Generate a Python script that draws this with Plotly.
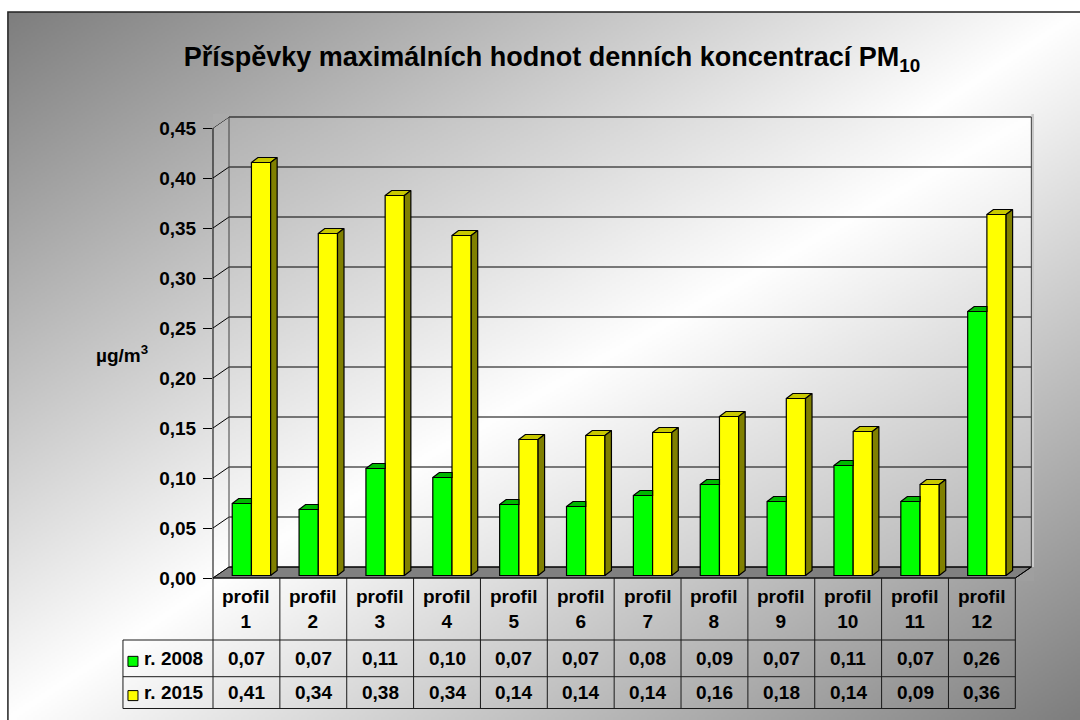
import base64
import struct
import zlib

import numpy as np
import plotly.graph_objects as go

# ---------------- data ----------------
category_labels = ["profil<br>1", "profil<br>2", "profil<br>3", "profil<br>4",
                   "profil<br>5", "profil<br>6", "profil<br>7", "profil<br>8",
                   "profil<br>9", "profil<br>10", "profil<br>11", "profil<br>12"]
series_names = ["r. 2008", "r. 2015"]
values_2008 = [0.072, 0.066, 0.107, 0.098, 0.071, 0.069, 0.080, 0.091, 0.074, 0.110, 0.074, 0.264]
values_2015 = [0.413, 0.342, 0.380, 0.340, 0.136, 0.140, 0.143, 0.159, 0.177, 0.144, 0.091, 0.361]
y_ticks = [0.00, 0.05, 0.10, 0.15, 0.20, 0.25, 0.30, 0.35, 0.40, 0.45]
y_tick_labels = ["0,00", "0,05", "0,10", "0,15", "0,20", "0,25", "0,30", "0,35", "0,40", "0,45"]
title_text = "Příspěvky maximálních hodnot denních koncentrací PM<sub>10</sub>"
y_title = "µg/m<sup>3</sup>"

# ---------------- styling / geometry ----------------
W, H = 1080, 720
FONT = "Liberation Sans, Arial, sans-serif"
TXT = 19
GREEN, GREEN_TOP = "#00FF00", "#00B800"
YELLOW, YELLOW_TOP, YELLOW_SIDE = "#FFFF00", "#C8C800", "#808000"

L_PX = 213            # front-left corner of the floor (x pixel)
B_PX = 578            # front value 0 (y pixel)
XU = 802 / 12         # pixels per category
YU = 1000.0           # pixels per value unit
DX, DY = 16 / XU, 11 / YU          # depth of the 3-D box
BAR_W = 19.2 / XU
BAR_OFF = 5 / XU
BAR_BASE = 0.0025
DXB, DYB = 6.5 / XU, 5 / YU        # depth of a bar
n = len(category_labels)
YMAX = y_ticks[-1]

x_lo, x_hi = -0.5, n - 0.5 + DX + 0.04
y_lo, y_hi = -0.003, YMAX + DY + 0.003
plot_w = (x_hi - x_lo) * XU
plot_h = (y_hi - y_lo) * YU
m_l = L_PX
m_r = W - L_PX - plot_w
m_b = H - B_PX + y_lo * YU
m_t = H - m_b - plot_h


def pxx(px):
    return (px - m_l) / plot_w


def pxy(py):
    return (H - m_b - py) / plot_h


def dxp(x):
    return (x - x_lo) / (x_hi - x_lo)


def dyp(y):
    return (y - y_lo) / (y_hi - y_lo)


def gradient(w, h, dark, light):
    u = np.linspace(0, 1, w)[None, :]
    v = np.linspace(0, 1, h)[:, None]
    t = (u + v) / 2
    return dark + (light - dark) * (1 - np.abs(2 * t - 1))


def png_uri(gray):
    gray = np.clip(gray, 0, 255).astype(np.uint8)
    h, w = gray.shape
    raw = b"".join(b"\x00" + gray[r].tobytes() for r in range(h))

    def chunk(tag, data):
        c = struct.pack(">I", len(data)) + tag + data
        return c + struct.pack(">I", zlib.crc32(tag + data) & 0xFFFFFFFF)

    png = (b"\x89PNG\r\n\x1a\n"
           + chunk(b"IHDR", struct.pack(">IIBBBBB", w, h, 8, 0, 0, 0, 0))
           + chunk(b"IDAT", zlib.compress(raw, 9))
           + chunk(b"IEND", b""))
    return "data:image/png;base64," + base64.b64encode(png).decode()


OUT_DARK, OUT_LIGHT = 126, 255
WALL_DARK, WALL_LIGHT = 176, 255
OX0, OY0 = 8, 12


def outer_color(px, py):
    u = (px - OX0) / (W - OX0)
    v = (py - OY0) / (H - OY0)
    t = (u + v) / 2
    c = int(OUT_DARK + (OUT_LIGHT - OUT_DARK) * (1 - abs(2 * t - 1)))
    return f"rgb({c},{c},{c})"


fig = go.Figure()

# ---------------- bars: front faces ----------------
xs = np.arange(n)
gx = xs + BAR_OFF - BAR_W / 2
yx = xs + BAR_OFF + BAR_W / 2
fig.add_trace(go.Bar(x=gx, y=values_2008, base=BAR_BASE, width=BAR_W, name=series_names[0],
                     marker=dict(color=GREEN, line=dict(color="black", width=1.2)),
                     hoverinfo="skip"))
fig.add_trace(go.Bar(x=yx, y=values_2015, base=BAR_BASE, width=BAR_W, name=series_names[1],
                     marker=dict(color=YELLOW, line=dict(color="black", width=1.2)),
                     hoverinfo="skip"))

# ---------------- bars: top and side faces ----------------
gt_x, gt_y, yt_x, yt_y, ys_x, ys_y = [], [], [], [], [], []
for i in range(n):
    g, y = values_2008[i], values_2015[i]
    x0, x1 = gx[i] - BAR_W / 2, gx[i] + BAR_W / 2
    top = BAR_BASE + g
    if y >= g:
        gt_x += [x0, x1, x1, x0 + DXB, x0, None]
        gt_y += [top, top, top + DYB, top + DYB, top, None]
    else:
        gt_x += [x0, x1, x1 + DXB, x0 + DXB, x0, None]
        gt_y += [top, top, top + DYB, top + DYB, top, None]
    x0, x1 = yx[i] - BAR_W / 2, yx[i] + BAR_W / 2
    top = BAR_BASE + y
    yt_x += [x0, x1, x1 + DXB, x0 + DXB, x0, None]
    yt_y += [top, top, top + DYB, top + DYB, top, None]
    ys_x += [x1, x1 + DXB, x1 + DXB, x1, x1, None]
    ys_y += [BAR_BASE, BAR_BASE + DYB, top + DYB, top, BAR_BASE, None]

for fx, fy, col in [(gt_x, gt_y, GREEN_TOP), (yt_x, yt_y, YELLOW_TOP), (ys_x, ys_y, YELLOW_SIDE)]:
    fig.add_trace(go.Scatter(x=fx, y=fy, mode="lines", fill="toself", fillcolor=col,
                             line=dict(color="black", width=1.2), hoverinfo="skip",
                             showlegend=False))

shapes = []
# floor
shapes.append(dict(type="path", xref="x", yref="y", layer="below",
                   path=f"M {-0.5},0 L {n-0.5},0 L {n-0.5+DX},{DY} L {-0.5+DX},{DY} Z",
                   fillcolor="#808080", line=dict(color="black", width=1)))
# back-wall gridlines and side-wall tick lines
for v in y_ticks:
    shapes.append(dict(type="line", xref="x", yref="y", layer="below",
                       x0=-0.5 + DX, x1=n - 0.5 + DX, y0=v + DY, y1=v + DY,
                       line=dict(color="black", width=1)))
    shapes.append(dict(type="line", xref="paper", yref="y", layer="below",
                       x0=dxp(-0.5), x1=dxp(-0.5 + DX), y0=v, y1=v + DY,
                       line=dict(color="black", width=1)))
# back wall edges
for xe in (-0.5 + DX, n - 0.5 + DX):
    shapes.append(dict(type="line", xref="x", yref="y", layer="below",
                       x0=xe, x1=xe, y0=DY, y1=YMAX + DY,
                       line=dict(color="#404040", width=1)))
# right floor edge
shapes.append(dict(type="line", xref="x", yref="y", layer="below",
                   x0=n - 0.5, x1=n - 0.5 + DX, y0=0, y1=DY,
                   line=dict(color="black", width=1)))
# corner regions showing the outer background
shapes.append(dict(type="path", xref="paper", yref="paper", layer="below",
                   path=(f"M {dxp(-0.5)},{dyp(YMAX)} L {dxp(-0.5)},{dyp(y_hi)} "
                         f"L {dxp(-0.5+DX)},{dyp(y_hi)} L {dxp(-0.5+DX)},{dyp(YMAX+DY)} Z"),
                   fillcolor=outer_color(L_PX + 6, 120), line=dict(width=0)))
shapes.append(dict(type="path", xref="paper", yref="paper", layer="below",
                   path=(f"M {dxp(n-0.5)},{dyp(0)} L {dxp(n-0.5+DX)},{dyp(DY)} "
                         f"L {dxp(x_hi)},{dyp(DY)} L {dxp(x_hi)},{dyp(y_lo)} L {dxp(n-0.5)},{dyp(y_lo)} Z"),
                   fillcolor=outer_color(1025, 575), line=dict(width=0)))
shapes.append(dict(type="path", xref="paper", yref="paper", layer="below",
                   path=(f"M {dxp(n-0.5+DX)},{dyp(DY)} L {dxp(x_hi)},{dyp(DY)} "
                         f"L {dxp(x_hi)},{dyp(y_hi)} L {dxp(n-0.5+DX)},{dyp(y_hi)} Z"),
                   fillcolor=outer_color(1040, 330), line=dict(width=0)))
# front value axis line
shapes.append(dict(type="line", xref="paper", yref="y", x0=0, x1=0, y0=0, y1=YMAX,
                   line=dict(color="black", width=1)))

# ---------------- data table ----------------
ROW_TOPS = [B_PX, 640, 676.7, 708.5]
LEG_L = 123
tbl_line = dict(color="#1a1a1a", width=1)
for k in range(n + 1):
    shapes.append(dict(type="line", xref="paper", yref="paper",
                       x0=dxp(k - 0.5), x1=dxp(k - 0.5), y0=pxy(ROW_TOPS[0]), y1=pxy(ROW_TOPS[-1]),
                       line=tbl_line))
shapes.append(dict(type="line", xref="paper", yref="paper",
                   x0=pxx(LEG_L), x1=pxx(LEG_L), y0=pxy(ROW_TOPS[1]), y1=pxy(ROW_TOPS[-1]),
                   line=tbl_line))
for j, ry in enumerate(ROW_TOPS):
    shapes.append(dict(type="line", xref="paper", yref="paper",
                       x0=dxp(-0.5) if j == 0 else pxx(LEG_L), x1=dxp(n - 0.5),
                       y0=pxy(ry), y1=pxy(ry), line=tbl_line))

tfont = dict(family=FONT, size=TXT, color="black", weight="bold")
annotations = []
for i, lab in enumerate(category_labels):
    annotations.append(dict(x=i, xref="x", y=pxy((ROW_TOPS[0] + ROW_TOPS[1]) / 2), yref="paper",
                            text=lab, showarrow=False, xanchor="center", yanchor="middle",
                            font=tfont))
for r, vals in enumerate([values_2008, values_2015]):
    yc = (ROW_TOPS[r + 1] + ROW_TOPS[r + 2]) / 2
    for i, v in enumerate(vals):
        annotations.append(dict(x=i, xref="x", y=pxy(yc), yref="paper",
                                text=f"{v:.2f}".replace(".", ","), showarrow=False,
                                xanchor="center", yanchor="middle", font=tfont))
    annotations.append(dict(x=pxx(LEG_L + 19), xref="paper", y=pxy(yc), yref="paper",
                            text=series_names[r], showarrow=False, xanchor="left", yanchor="middle",
                            font=tfont))
    shapes.append(dict(type="rect", xref="paper", yref="paper",
                       x0=pxx(LEG_L + 5), x1=pxx(LEG_L + 15), y0=pxy(yc + 8), y1=pxy(yc - 2),
                       fillcolor=[GREEN, YELLOW][r], line=dict(color="black", width=1)))

# axis title
annotations.append(dict(x=pxx(122), xref="paper", y=pxy(354), yref="paper", text=y_title,
                        showarrow=False, xanchor="center", yanchor="middle", font=tfont))

# outer chart border
shapes.append(dict(type="rect", xref="paper", yref="paper",
                   x0=pxx(OX0), y0=pxy(OY0), x1=pxx(W + 20), y1=pxy(H + 20),
                   line=dict(color="#222222", width=1.5)))

images = [
    dict(source=png_uri(gradient(536, 354, OUT_DARK, OUT_LIGHT)), xref="paper", yref="paper",
         x=pxx(OX0), y=pxy(OY0), sizex=(W - OX0) / plot_w, sizey=(H - OY0) / plot_h,
         sizing="stretch", xanchor="left", yanchor="top", layer="below"),
    dict(source=png_uri(gradient(409, 231, WALL_DARK, WALL_LIGHT)), xref="paper", yref="paper",
         x=dxp(-0.5), y=dyp(YMAX + DY), sizex=dxp(n - 0.5 + DX) - dxp(-0.5),
         sizey=dyp(YMAX + DY) - dyp(0), sizing="stretch", xanchor="left", yanchor="top",
         layer="below"),
]

fig.update_layout(
    width=W, height=H,
    margin=dict(l=m_l, r=m_r, t=m_t, b=m_b, pad=0),
    paper_bgcolor="white", plot_bgcolor="rgba(0,0,0,0)",
    barmode="overlay", showlegend=False,
    separators=", ",
    title=dict(text=title_text, x=552 / W, xanchor="center", y=1 - 57 / H, yanchor="middle",
               xref="container", yref="container",
               font=dict(family=FONT, size=27, color="black", weight="bold")),
    xaxis=dict(range=[x_lo, x_hi], showgrid=False, zeroline=False, showticklabels=False,
               ticks="", showline=False, fixedrange=True),
    yaxis=dict(range=[y_lo, y_hi], showgrid=False, zeroline=False, showline=False,
               tickvals=y_ticks, ticktext=y_tick_labels, ticks="outside", ticklen=9,
               tickwidth=1, tickcolor="black", ticklabelstandoff=3,
               tickfont=tfont, fixedrange=True),
    shapes=shapes, annotations=annotations, images=images,
)

fig.write_html("out.html", post_script="document.body.style.margin='0';",
               config={"displayModeBar": False})
